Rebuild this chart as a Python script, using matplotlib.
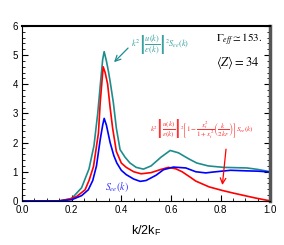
import numpy as np
import matplotlib
matplotlib.use("Agg")
import matplotlib.pyplot as plt
from matplotlib.ticker import MultipleLocator

plt.rcParams['font.family'] = ['Liberation Sans', 'DejaVu Sans']
plt.rcParams['mathtext.fontset'] = 'stix'

# teal: k^2 |u/eps|^2 S_ee
x_teal = [0.0, 0.15, 0.2, 0.24, 0.27, 0.29, 0.305, 0.315, 0.325, 0.331, 0.34, 0.348,
          0.355, 0.368, 0.38, 0.395, 0.415, 0.435, 0.46, 0.489, 0.52, 0.56, 0.597,
          0.63, 0.67, 0.704, 0.75, 0.812, 0.86, 0.906, 0.95, 1.0]
y_teal = [0.0, 0.0, 0.08, 0.45, 1.1, 1.9, 3.0, 3.94, 4.85, 5.12, 4.8, 4.45,
          4.1, 3.37, 2.5, 1.76, 1.5, 1.3, 1.15, 1.09, 1.2, 1.5, 1.73,
          1.65, 1.45, 1.3, 1.2, 1.15, 1.14, 1.13, 1.08, 1.0]

# red: with local field correction
x_red = [0.0, 0.15, 0.19, 0.22, 0.254, 0.27, 0.288, 0.308, 0.315, 0.327, 0.335, 0.345,
         0.355, 0.365, 0.38, 0.40, 0.42, 0.45, 0.48, 0.52, 0.56, 0.59, 0.62, 0.645,
         0.68, 0.70, 0.754, 0.806, 0.85, 0.887, 0.94, 1.0]
y_red = [0.0, 0.0, 0.06, 0.15, 0.38, 0.7, 1.18, 2.33, 3.37, 4.6, 4.4, 4.0,
         3.2, 2.5, 1.7, 1.3, 1.15, 1.0, 0.93, 0.97, 1.08, 1.15, 1.1, 1.0,
         0.8, 0.68, 0.48, 0.36, 0.27, 0.2, 0.1, 0.0]

# blue: S_ee(k)
x_blue = [0.0, 0.15, 0.2, 0.24, 0.267, 0.285, 0.3, 0.315, 0.325, 0.331, 0.34, 0.355,
          0.37, 0.382, 0.40, 0.42, 0.45, 0.476, 0.5, 0.54, 0.57, 0.61, 0.66, 0.70,
          0.74, 0.77, 0.84, 0.906, 0.95, 1.0]
y_blue = [0.0, 0.0, 0.04, 0.18, 0.38, 0.7, 1.2, 2.1, 2.6, 2.83, 2.6, 2.0,
          1.55, 1.3, 1.05, 0.9, 0.75, 0.67, 0.7, 0.88, 1.07, 1.16, 1.13, 1.0,
          0.96, 0.99, 1.05, 1.03, 1.02, 0.99]

teal = '#1f8c8c'
fig = plt.figure(figsize=(2.84, 2.45), dpi=100)
ax = fig.add_axes([0.0775, 0.18, 0.874, 0.714])

ax.plot(x_teal, y_teal, color=teal, lw=1.2)
ax.plot(x_red, y_red, color='red', lw=1.2)
ax.plot(x_blue, y_blue, color='blue', lw=1.2)

ax.set_xlim(0, 1)
ax.set_ylim(0, 6)
ax.xaxis.set_major_locator(MultipleLocator(0.2))
ax.xaxis.set_minor_locator(MultipleLocator(0.05))
ax.yaxis.set_major_locator(MultipleLocator(1))
ax.yaxis.set_minor_locator(MultipleLocator(0.2))
ax.xaxis.set_major_formatter(matplotlib.ticker.FormatStrFormatter('%.1f'))
ax.tick_params(which='both', direction='in', right=True, labelsize=7, pad=3)
ax.tick_params(which='major', length=4, width=0.8)
ax.tick_params(which='minor', length=2, width=0.6)
ax.spines['top'].set_linewidth(1.5)
ax.spines['right'].set_linewidth(2.5)
ax.spines['right'].set_color('#555555')
ax.spines['left'].set_linewidth(0.8)
ax.spines['bottom'].set_linewidth(0.8)

ax.set_xlabel(r'k/2k$_\mathregular{F}$', fontsize=9, labelpad=6)

ax.annotate('', xy=(0.363, 4.69), xytext=(0.435, 5.31),
            arrowprops=dict(arrowstyle='->', color=teal, lw=0.9))
ax.text(0.44, 5.35, r'$k^2\left|\dfrac{u(k)}{\varepsilon(k)}\right|^2 S_{ee}(k)$',
        color='#3aa0a0', fontsize=6, va='center', ha='left')

ax.text(0.78, 5.52, r'$\Gamma_{eff} \simeq 153.$', fontsize=8, ha='left', va='center')
ax.text(0.78, 4.75, r'$\langle Z\rangle = 34$', fontsize=9, ha='left', va='center')

ax.text(0.515, 2.5, r'$k^2\left|\dfrac{u(k)}{\varepsilon(k)}\right|^2\left[1-\dfrac{x_t^2}{1+x_t^2}\left(\dfrac{k}{2k_F}\right)\right]S_{ee}(k)$',
        color='#ff3030', fontsize=5, va='center', ha='left')
ax.annotate('', xy=(0.806, 0.45), xytext=(0.823, 1.87),
            arrowprops=dict(arrowstyle='->', color='red', lw=0.9))

ax.text(0.335, 0.48, r'$S_{ee}(k)$', color='#3030ff', fontsize=7, va='center', ha='left')

fig.savefig('out.png', dpi=100)
